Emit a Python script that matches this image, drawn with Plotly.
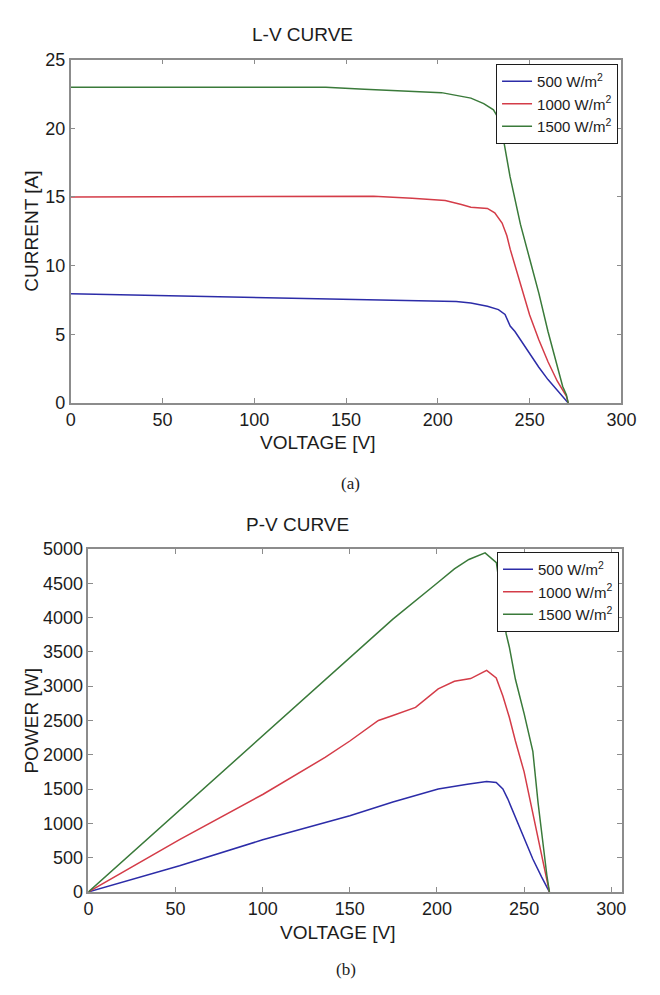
import plotly.graph_objects as go

# ---- I-V curve data ----
v_iv_500 = [0, 25, 50, 75, 100, 125, 150, 175, 200, 210, 218, 227, 233, 236.6, 239.4,
            242, 245, 250, 255, 260, 265, 268, 271]
i_500 = [7.95, 7.88, 7.8, 7.72, 7.64, 7.57, 7.5, 7.44, 7.4, 7.38, 7.28, 7.04, 6.8, 6.44, 5.6,
         5.2, 4.6, 3.6, 2.6, 1.7, 0.9, 0.4, 0.0]

v_iv_1000 = [0, 50, 100, 165, 186, 204, 212.8, 218, 227, 231, 235, 237.6, 239.4, 245, 250,
             255, 260, 265, 268, 270, 271]
i_1000 = [15.0, 15.0, 15.0, 15.05, 14.9, 14.75, 14.45, 14.25, 14.17, 13.84, 13.1, 12.17, 11.2,
          8.6, 6.4, 4.6, 3.0, 1.6, 0.9, 0.5, 0.0]

v_iv_1500 = [0, 50, 100, 139, 160, 186, 202, 218, 225, 230.3, 234, 239.3, 245, 250, 255, 260,
             265, 268, 270, 271]
i_1500 = [23.0, 23.0, 23.0, 23.0, 22.85, 22.7, 22.6, 22.2, 21.8, 21.35, 20.5, 16.5, 13.0, 10.5,
          8.0, 5.2, 2.6, 1.2, 0.6, 0.0]

# ---- P-V curve data ----
v_pv_500 = [0, 52.3, 100, 150, 174.7, 200.7, 217.4, 228.5, 234, 237.8, 240.6, 245, 250, 255,
            260, 264.5]
p_500 = [0, 381, 760, 1110, 1310, 1500, 1571, 1610, 1596, 1500, 1357, 1080, 780, 480, 220, 0]

v_pv_1000 = [0, 52.3, 100, 135.8, 150, 166.4, 174.7, 187.7, 200.7, 210, 219.3, 224, 228.5, 234,
             237.8, 241.5, 245, 250, 255, 258, 261, 263, 264.5]
p_1000 = [0, 761, 1420, 1961, 2200, 2500, 2571, 2690, 2960, 3070, 3110, 3170, 3229, 3119, 2857,
          2547, 2200, 1750, 1150, 750, 380, 160, 0]

v_pv_1500 = [0, 52.3, 100, 150, 174.7, 200, 210, 218.3, 227.6, 234.1, 236.9, 239.7, 241.5,
             245, 250, 255, 258, 261, 263, 264.5]
p_1500 = [0, 1190, 2275, 3410, 3976, 4500, 4710, 4847, 4943, 4800, 4286, 3761, 3571, 3100,
          2600, 2050, 1300, 650, 250, 0]

series_names = ["500 W/m<sup>2</sup>", "1000 W/m<sup>2</sup>", "1500 W/m<sup>2</sup>"]
series_colors = ["#2c2ca8", "#d43c48", "#3a7a3a"]

x_ticks = [0, 50, 100, 150, 200, 250, 300]
i_ticks = [0, 5, 10, 15, 20, 25]
p_ticks = [0, 500, 1000, 1500, 2000, 2500, 3000, 3500, 4000, 4500, 5000]

W, H = 660, 995


def fx(px):
    return px / W


def fy(py):
    return 1 - py / H


SANS = "Liberation Sans, Arial, sans-serif"
SERIF = "Liberation Serif, Times New Roman, serif"
TEXT = "#1c1c1c"

fig = go.Figure()

iv_sets = [(v_iv_500, i_500), (v_iv_1000, i_1000), (v_iv_1500, i_1500)]
pv_sets = [(v_pv_500, p_500), (v_pv_1000, p_1000), (v_pv_1500, p_1500)]

for k, (vx, iy) in enumerate(iv_sets):
    fig.add_trace(go.Scatter(x=vx, y=iy, mode="lines", name=series_names[k],
                             line=dict(color=series_colors[k], width=1.5),
                             xaxis="x", yaxis="y", legend="legend"))
for k, (vx, py) in enumerate(pv_sets):
    fig.add_trace(go.Scatter(x=vx, y=py, mode="lines", name=series_names[k],
                             line=dict(color=series_colors[k], width=1.5),
                             xaxis="x2", yaxis="y2", legend="legend2"))

axis_style = dict(showgrid=False, zeroline=False, showline=True, linecolor="#8c8c8c",
                  linewidth=1.5, mirror="ticks", ticks="inside", ticklen=5,
                  tickcolor="#8c8c8c", tickwidth=1,
                  tickfont=dict(family=SANS, size=18, color=TEXT))

fig.update_layout(
    width=W, height=H,
    margin=dict(l=0, r=0, t=0, b=0),
    paper_bgcolor="white", plot_bgcolor="white",
    xaxis=dict(domain=[fx(67.7), fx(635.7)], range=[0, 300], tickvals=x_ticks,
               anchor="y", **axis_style),
    yaxis=dict(domain=[fy(401), fy(50.7)], range=[0, 25], tickvals=i_ticks,
               anchor="x", **axis_style),
    xaxis2=dict(domain=[fx(86), fx(636)], range=[0, 306], tickvals=x_ticks,
                anchor="y2", **axis_style),
    yaxis2=dict(domain=[fy(900), fy(550)], range=[0, 5000], tickvals=p_ticks,
                anchor="x2", **axis_style),
    legend=dict(x=fx(632), y=fy(55), xanchor="right", yanchor="top",
                bgcolor="white", bordercolor="#1c1c1c", borderwidth=1.2,
                font=dict(family=SANS, size=15, color=TEXT), tracegroupgap=0,
                itemwidth=30),
    legend2=dict(x=fx(633), y=fy(553), xanchor="right", yanchor="top",
                 bgcolor="white", bordercolor="#1c1c1c", borderwidth=1.2,
                 font=dict(family=SANS, size=15, color=TEXT), tracegroupgap=0,
                 itemwidth=30),
    showlegend=True,
)

labels = [
    ("L-V CURVE", 307, 25, 0, SANS, 19),
    ("P-V CURVE", 302, 525, 0, SANS, 19),
    ("VOLTAGE [V]", 322, 441, 0, SANS, 19),
    ("VOLTAGE [V]", 343, 941, 0, SANS, 19),
    ("CURRENT [A]", 27, 226, -90, SANS, 19),
    ("POWER [W]", 27, 725, -90, SANS, 19),
    ("(a)", 356, 483, 0, SERIF, 17),
    ("(b)", 352, 979, 0, SERIF, 17),
]
for text, px, py, ang, fam, size in labels:
    fig.add_annotation(text=text, x=fx(px), y=fy(py), xref="paper", yref="paper",
                       showarrow=False, textangle=ang, xanchor="center", yanchor="middle",
                       font=dict(family=fam, size=size, color=TEXT))

fig.write_html("out.html")
